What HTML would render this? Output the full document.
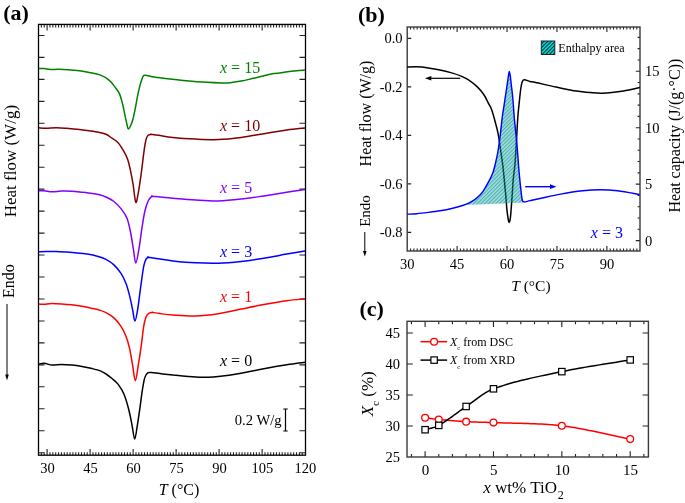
<!DOCTYPE html>
<html><head><meta charset="utf-8"><style>
html,body{margin:0;padding:0;background:#fff;}
svg{display:block;font-family:"Liberation Serif", serif;will-change:transform;}
</style></head><body>
<svg width="685" height="503" viewBox="0 0 685 503">
<rect width="685" height="503" fill="#fff"/>
<text x="3.2" y="19.8" font-size="22" text-anchor="start" fill="#000" font-weight="bold" font-style="normal" >(a)</text>
<path d="M41.37 455.2V452.2 M41.37 24.4V27.4 M44.23 455.2V452.2 M44.23 24.4V27.4 M47.1 455.2V449 M47.1 24.4V30.6 M49.97 455.2V452.2 M49.97 24.4V27.4 M52.84 455.2V452.2 M52.84 24.4V27.4 M55.7 455.2V452.2 M55.7 24.4V27.4 M58.57 455.2V452.2 M58.57 24.4V27.4 M61.44 455.2V452.2 M61.44 24.4V27.4 M64.3 455.2V452.2 M64.3 24.4V27.4 M67.17 455.2V452.2 M67.17 24.4V27.4 M70.04 455.2V452.2 M70.04 24.4V27.4 M72.9 455.2V452.2 M72.9 24.4V27.4 M75.77 455.2V452.2 M75.77 24.4V27.4 M78.64 455.2V452.2 M78.64 24.4V27.4 M81.5 455.2V452.2 M81.5 24.4V27.4 M84.37 455.2V452.2 M84.37 24.4V27.4 M87.24 455.2V452.2 M87.24 24.4V27.4 M90.11 455.2V449 M90.11 24.4V30.6 M92.97 455.2V452.2 M92.97 24.4V27.4 M95.84 455.2V452.2 M95.84 24.4V27.4 M98.71 455.2V452.2 M98.71 24.4V27.4 M101.57 455.2V452.2 M101.57 24.4V27.4 M104.44 455.2V452.2 M104.44 24.4V27.4 M107.31 455.2V452.2 M107.31 24.4V27.4 M110.17 455.2V452.2 M110.17 24.4V27.4 M113.04 455.2V452.2 M113.04 24.4V27.4 M115.91 455.2V452.2 M115.91 24.4V27.4 M118.78 455.2V452.2 M118.78 24.4V27.4 M121.64 455.2V452.2 M121.64 24.4V27.4 M124.51 455.2V452.2 M124.51 24.4V27.4 M127.38 455.2V452.2 M127.38 24.4V27.4 M130.24 455.2V452.2 M130.24 24.4V27.4 M133.11 455.2V449 M133.11 24.4V30.6 M135.98 455.2V452.2 M135.98 24.4V27.4 M138.84 455.2V452.2 M138.84 24.4V27.4 M141.71 455.2V452.2 M141.71 24.4V27.4 M144.58 455.2V452.2 M144.58 24.4V27.4 M147.45 455.2V452.2 M147.45 24.4V27.4 M150.31 455.2V452.2 M150.31 24.4V27.4 M153.18 455.2V452.2 M153.18 24.4V27.4 M156.05 455.2V452.2 M156.05 24.4V27.4 M158.91 455.2V452.2 M158.91 24.4V27.4 M161.78 455.2V452.2 M161.78 24.4V27.4 M164.65 455.2V452.2 M164.65 24.4V27.4 M167.51 455.2V452.2 M167.51 24.4V27.4 M170.38 455.2V452.2 M170.38 24.4V27.4 M173.25 455.2V452.2 M173.25 24.4V27.4 M176.12 455.2V449 M176.12 24.4V30.6 M178.98 455.2V452.2 M178.98 24.4V27.4 M181.85 455.2V452.2 M181.85 24.4V27.4 M184.72 455.2V452.2 M184.72 24.4V27.4 M187.58 455.2V452.2 M187.58 24.4V27.4 M190.45 455.2V452.2 M190.45 24.4V27.4 M193.32 455.2V452.2 M193.32 24.4V27.4 M196.19 455.2V452.2 M196.19 24.4V27.4 M199.05 455.2V452.2 M199.05 24.4V27.4 M201.92 455.2V452.2 M201.92 24.4V27.4 M204.79 455.2V452.2 M204.79 24.4V27.4 M207.65 455.2V452.2 M207.65 24.4V27.4 M210.52 455.2V452.2 M210.52 24.4V27.4 M213.39 455.2V452.2 M213.39 24.4V27.4 M216.25 455.2V452.2 M216.25 24.4V27.4 M219.12 455.2V449 M219.12 24.4V30.6 M221.99 455.2V452.2 M221.99 24.4V27.4 M224.85 455.2V452.2 M224.85 24.4V27.4 M227.72 455.2V452.2 M227.72 24.4V27.4 M230.59 455.2V452.2 M230.59 24.4V27.4 M233.46 455.2V452.2 M233.46 24.4V27.4 M236.32 455.2V452.2 M236.32 24.4V27.4 M239.19 455.2V452.2 M239.19 24.4V27.4 M242.06 455.2V452.2 M242.06 24.4V27.4 M244.92 455.2V452.2 M244.92 24.4V27.4 M247.79 455.2V452.2 M247.79 24.4V27.4 M250.66 455.2V452.2 M250.66 24.4V27.4 M253.53 455.2V452.2 M253.53 24.4V27.4 M256.39 455.2V452.2 M256.39 24.4V27.4 M259.26 455.2V452.2 M259.26 24.4V27.4 M262.13 455.2V449 M262.13 24.4V30.6 M264.99 455.2V452.2 M264.99 24.4V27.4 M267.86 455.2V452.2 M267.86 24.4V27.4 M270.73 455.2V452.2 M270.73 24.4V27.4 M273.59 455.2V452.2 M273.59 24.4V27.4 M276.46 455.2V452.2 M276.46 24.4V27.4 M279.33 455.2V452.2 M279.33 24.4V27.4 M282.19 455.2V452.2 M282.19 24.4V27.4 M285.06 455.2V452.2 M285.06 24.4V27.4 M287.93 455.2V452.2 M287.93 24.4V27.4 M290.8 455.2V452.2 M290.8 24.4V27.4 M293.66 455.2V452.2 M293.66 24.4V27.4 M296.53 455.2V452.2 M296.53 24.4V27.4 M299.4 455.2V452.2 M299.4 24.4V27.4 M302.26 455.2V452.2 M302.26 24.4V27.4 M38.5 35.45H44.5 M305.5 35.45H299.5 M38.5 57.41H44.5 M305.5 57.41H299.5 M38.5 79.37H44.5 M305.5 79.37H299.5 M38.5 101.33H44.5 M305.5 101.33H299.5 M38.5 123.29H44.5 M305.5 123.29H299.5 M38.5 145.25H44.5 M305.5 145.25H299.5 M38.5 167.21H44.5 M305.5 167.21H299.5 M38.5 189.17H44.5 M305.5 189.17H299.5 M38.5 211.13H44.5 M305.5 211.13H299.5 M38.5 233.09H44.5 M305.5 233.09H299.5 M38.5 255.05H44.5 M305.5 255.05H299.5 M38.5 277.01H44.5 M305.5 277.01H299.5 M38.5 298.97H44.5 M305.5 298.97H299.5 M38.5 320.93H44.5 M305.5 320.93H299.5 M38.5 342.89H44.5 M305.5 342.89H299.5 M38.5 364.85H44.5 M305.5 364.85H299.5 M38.5 386.81H44.5 M305.5 386.81H299.5 M38.5 408.77H44.5 M305.5 408.77H299.5 M38.5 430.73H44.5 M305.5 430.73H299.5 M38.5 452.69H44.5 M305.5 452.69H299.5" stroke="#222" stroke-width="1.1" fill="none"/>
<rect x="38.5" y="24.4" width="267" height="430.8" fill="none" stroke="#000" stroke-width="1.3"/>
<text x="47.4" y="472.8" font-size="14.5" text-anchor="middle" fill="#000" font-weight="normal" font-style="normal" >30</text>
<text x="90.41" y="472.8" font-size="14.5" text-anchor="middle" fill="#000" font-weight="normal" font-style="normal" >45</text>
<text x="133.41" y="472.8" font-size="14.5" text-anchor="middle" fill="#000" font-weight="normal" font-style="normal" >60</text>
<text x="176.42" y="472.8" font-size="14.5" text-anchor="middle" fill="#000" font-weight="normal" font-style="normal" >75</text>
<text x="219.42" y="472.8" font-size="14.5" text-anchor="middle" fill="#000" font-weight="normal" font-style="normal" >90</text>
<text x="262.43" y="472.8" font-size="14.5" text-anchor="middle" fill="#000" font-weight="normal" font-style="normal" >105</text>
<text x="305.43" y="472.8" font-size="14.5" text-anchor="middle" fill="#000" font-weight="normal" font-style="normal" >120</text>
<text x="158.7" y="494.7" font-size="16"><tspan font-style="italic">T</tspan> (°C)</text>
<text transform="translate(15.6 217.3) rotate(-90)" font-size="17">Heat flow (W/g)</text>
<text transform="translate(13.6 297.9) rotate(-90)" font-size="16">Endo</text>
<line x1="7" y1="304" x2="7" y2="376" stroke="#000" stroke-width="1"/>
<path d="M5.2 374.5 L8.8 374.5 L7 380.5 Z" fill="#000"/>
<path d="M38.9 68.4 C39.75 68.43 41.77 68.4 44 68.6 C46.23 68.8 49.88 69.5 52.3 69.6 C54.72 69.7 54.4 69.07 58.5 69.2 C62.6 69.33 71.8 69.85 76.9 70.4 C82 70.95 85.25 71.75 89.1 72.5 C92.95 73.25 96.68 73.63 100 74.9 C103.32 76.17 106.52 78.1 109 80.1 C111.48 82.1 113.17 84.65 114.9 86.9 C116.63 89.15 118.15 90.87 119.4 93.6 C120.65 96.33 121.53 99.95 122.4 103.3 C123.27 106.65 123.85 110.22 124.6 113.7 C125.35 117.18 126.27 121.63 126.9 124.2 C127.53 126.77 127.78 128.85 128.4 129.1 C129.02 129.35 129.87 127.27 130.6 125.7 C131.33 124.13 132.05 122.43 132.8 119.7 C133.55 116.97 134.35 113.03 135.1 109.3 C135.85 105.57 136.55 101.03 137.3 97.3 C138.05 93.57 138.85 89.88 139.6 86.9 C140.35 83.92 141.13 81.28 141.8 79.4 C142.47 77.52 142.98 76.3 143.6 75.6 C144.22 74.9 145.18 75.27 145.5 75.2 C145.82 75.13 144.38 74.95 145.5 75.2 C146.62 75.45 150.02 76.3 152.2 76.7 C154.38 77.1 155.63 77.22 158.6 77.6 C161.57 77.98 165.37 78.48 170 79 C174.63 79.52 180.25 80.15 186.4 80.7 C192.55 81.25 201.1 81.93 206.9 82.3 C212.7 82.67 217.35 82.82 221.2 82.9 C225.05 82.98 226.68 83.1 230 82.8 C233.32 82.5 237.4 81.8 241.1 81.1 C244.8 80.4 248.5 79.47 252.2 78.6 C255.9 77.73 259.6 76.73 263.3 75.9 C267 75.07 270.7 74.23 274.4 73.6 C278.1 72.97 281.8 72.57 285.5 72.1 C289.2 71.63 293.35 71.13 296.6 70.8 C299.85 70.47 303.6 70.22 305 70.1" stroke="#008000" stroke-width="1.5" fill="none" stroke-linejoin="round"/>
<path d="M38.9 127.8 C40.12 127.88 43.28 128.32 46.2 128.3 C49.12 128.28 53 127.7 56.4 127.7 C59.8 127.7 63.18 128.03 66.6 128.3 C70.02 128.57 73.48 128.93 76.9 129.3 C80.32 129.67 83.7 130.03 87.1 130.5 C90.5 130.97 94.15 131.47 97.3 132.1 C100.45 132.73 103.55 133.28 106 134.3 C108.45 135.32 110.02 136.85 112 138.2 C113.98 139.55 116.02 140.37 117.9 142.4 C119.78 144.43 121.67 147.57 123.3 150.4 C124.93 153.23 126.52 156.12 127.7 159.4 C128.88 162.68 129.5 165.93 130.4 170.1 C131.3 174.27 132.2 179.03 133.1 184.4 C134 189.77 134.9 201.1 135.8 202.3 C136.7 203.5 137.6 196.37 138.5 191.6 C139.4 186.83 140.3 180.27 141.2 173.7 C142.1 167.13 143.17 157.57 143.9 152.2 C144.63 146.83 145.02 144.18 145.6 141.5 C146.18 138.82 146.5 137.3 147.4 136.1 C148.3 134.9 150.4 134.6 151 134.3 C151.6 134 149.73 134.13 151 134.3 C152.27 134.47 154.97 134.77 158.6 135.3 C162.23 135.83 166.63 136.87 172.8 137.5 C178.97 138.13 188.02 138.75 195.6 139.1 C203.18 139.45 210.72 139.87 218.3 139.6 C225.88 139.33 233.5 138.48 241.1 137.5 C248.7 136.52 256.3 134.95 263.9 133.7 C271.5 132.45 279.85 130.95 286.7 130 C293.55 129.05 301.95 128.33 305 128" stroke="#800000" stroke-width="1.5" fill="none" stroke-linejoin="round"/>
<path d="M38.9 190.8 C39.78 190.8 41.97 190.63 44.2 190.8 C46.43 190.97 49.42 191.75 52.3 191.8 C55.18 191.85 58.25 191.18 61.5 191.1 C64.75 191.02 68.38 191.1 71.8 191.3 C75.22 191.5 78.6 191.93 82 192.3 C85.4 192.67 89.13 193.07 92.2 193.5 C95.27 193.93 98.1 194.32 100.4 194.9 C102.7 195.48 103.75 195.9 106 197 C108.25 198.1 111.4 199.57 113.9 201.5 C116.4 203.43 118.82 205.82 121 208.6 C123.18 211.38 125.4 214.22 127 218.2 C128.6 222.18 129.53 227.33 130.6 232.5 C131.67 237.67 132.53 244.12 133.4 249.2 C134.27 254.28 134.88 263 135.8 263 C136.72 263 137.87 255.08 138.9 249.2 C139.93 243.32 141 234.07 142 227.7 C143 221.33 143.82 215.57 144.9 211 C145.98 206.43 147.32 202.77 148.5 200.3 C149.68 197.83 151.42 196.88 152 196.2 C152.58 195.52 150.9 196.1 152 196.2 C153.1 196.3 155.13 196.47 158.6 196.8 C162.07 197.13 166.63 197.67 172.8 198.2 C178.97 198.73 188.02 199.55 195.6 200 C203.18 200.45 210.72 201.05 218.3 200.9 C225.88 200.75 233.5 199.93 241.1 199.1 C248.7 198.27 256.3 197.03 263.9 195.9 C271.5 194.77 279.85 193.37 286.7 192.3 C293.55 191.23 301.95 189.97 305 189.5" stroke="#8000ff" stroke-width="1.5" fill="none" stroke-linejoin="round"/>
<path d="M38.9 251.8 C40.12 251.75 43.28 251.55 46.2 251.5 C49.12 251.45 53 251.4 56.4 251.5 C59.8 251.6 63.18 251.87 66.6 252.1 C70.02 252.33 73.48 252.57 76.9 252.9 C80.32 253.23 83.7 253.55 87.1 254.1 C90.5 254.65 94.15 255.32 97.3 256.2 C100.45 257.08 103.23 257.95 106 259.4 C108.77 260.85 111.4 262.57 113.9 264.9 C116.4 267.23 119.02 270.38 121 273.4 C122.98 276.42 124.4 279.42 125.8 283 C127.2 286.58 128.28 290.53 129.4 294.9 C130.52 299.27 131.58 304.83 132.5 309.2 C133.42 313.57 134.03 321.1 134.9 321.1 C135.77 321.1 136.75 314.77 137.7 309.2 C138.65 303.63 139.6 294.85 140.6 287.7 C141.6 280.55 142.78 271.07 143.7 266.3 C144.62 261.53 145.3 260.62 146.1 259.1 C146.9 257.58 148.1 257.52 148.5 257.2 C148.9 256.88 146.58 256.9 148.5 257.2 C150.42 257.5 155.95 258.38 160 259 C164.05 259.62 166.87 260.27 172.8 260.9 C178.73 261.53 188.02 262.42 195.6 262.8 C203.18 263.18 210.72 263.43 218.3 263.2 C225.88 262.97 233.5 262.23 241.1 261.4 C248.7 260.57 256.3 259.42 263.9 258.2 C271.5 256.98 279.85 255.3 286.7 254.1 C293.55 252.9 301.95 251.52 305 251" stroke="#0000ff" stroke-width="1.5" fill="none" stroke-linejoin="round"/>
<path d="M38.9 304.1 C39.78 304.13 42.13 304.4 44.2 304.3 C46.27 304.2 48.42 303.57 51.3 303.5 C54.18 303.43 58.08 303.68 61.5 303.9 C64.92 304.12 68.38 304.4 71.8 304.8 C75.22 305.2 78.6 305.7 82 306.3 C85.4 306.9 89.13 307.72 92.2 308.4 C95.27 309.08 98.1 309.68 100.4 310.4 C102.7 311.12 103.75 311.45 106 312.7 C108.25 313.95 111.4 315.63 113.9 317.9 C116.4 320.17 119.02 323.32 121 326.3 C122.98 329.28 124.4 332.23 125.8 335.8 C127.2 339.37 128.28 342.93 129.4 347.7 C130.52 352.47 131.52 358.9 132.5 364.4 C133.48 369.9 134.32 380.7 135.3 380.7 C136.28 380.7 137.4 370.3 138.4 364.4 C139.4 358.5 140.42 351.65 141.3 345.3 C142.18 338.95 142.9 331.07 143.7 326.3 C144.5 321.53 145.18 318.9 146.1 316.7 C147.02 314.5 148.13 313.82 149.2 313.1 C150.27 312.38 151.95 312.52 152.5 312.4 C153.05 312.28 151.25 312.2 152.5 312.4 C153.75 312.6 156.62 313.17 160 313.6 C163.38 314.03 166.87 314.6 172.8 315 C178.73 315.4 188.02 316.22 195.6 316 C203.18 315.78 210.72 314.85 218.3 313.7 C225.88 312.55 233.5 310.62 241.1 309.1 C248.7 307.58 256.3 306 263.9 304.6 C271.5 303.2 279.85 301.67 286.7 300.7 C293.55 299.73 301.95 299.12 305 298.8" stroke="#ff0000" stroke-width="1.5" fill="none" stroke-linejoin="round"/>
<path d="M38.9 364.1 C39.78 363.97 41.97 363.13 44.2 363.3 C46.43 363.47 49.42 364.9 52.3 365.1 C55.18 365.3 58.25 364.5 61.5 364.5 C64.75 364.5 68.38 364.77 71.8 365.1 C75.22 365.43 78.6 365.92 82 366.5 C85.4 367.08 89.13 367.87 92.2 368.6 C95.27 369.33 98.1 370 100.4 370.9 C102.7 371.8 104.07 372.73 106 374 C107.93 375.27 110.03 376.85 112 378.5 C113.97 380.15 115.83 381.35 117.8 383.9 C119.77 386.45 121.97 389.5 123.8 393.8 C125.63 398.1 127.42 404.4 128.8 409.7 C130.18 415 131.12 420.7 132.1 425.6 C133.08 430.5 133.83 439.1 134.7 439.1 C135.57 439.1 136.47 430.5 137.3 425.6 C138.13 420.7 138.9 415.33 139.7 409.7 C140.5 404.07 141.27 397.1 142.1 391.8 C142.93 386.5 143.77 381.05 144.7 377.9 C145.63 374.75 146.55 373.78 147.7 372.9 C148.85 372.02 149.55 372.48 151.6 372.6 C153.65 372.72 156.47 373.2 160 373.6 C163.53 374 166.87 374.42 172.8 375 C178.73 375.58 189.92 376.72 195.6 377.1 C201.28 377.48 203.12 377.38 206.9 377.3 C210.68 377.22 212.6 377.28 218.3 376.6 C224 375.92 233.5 374.52 241.1 373.2 C248.7 371.88 256.3 370.1 263.9 368.7 C271.5 367.3 279.85 365.87 286.7 364.8 C293.55 363.73 301.95 362.72 305 362.3" stroke="#000" stroke-width="1.5" fill="none" stroke-linejoin="round"/>
<text x="220" y="73.1" font-size="16" fill="#008000"><tspan font-style="italic">x</tspan> = 15</text>
<text x="220" y="131" font-size="16" fill="#800000"><tspan font-style="italic">x</tspan> = 10</text>
<text x="220" y="192.9" font-size="16" fill="#8000ff"><tspan font-style="italic">x</tspan> = 5</text>
<text x="220" y="256.6" font-size="16" fill="#0000ff"><tspan font-style="italic">x</tspan> = 3</text>
<text x="220" y="301.5" font-size="16" fill="#ff0000"><tspan font-style="italic">x</tspan> = 1</text>
<text x="220" y="366.4" font-size="16" fill="#000"><tspan font-style="italic">x</tspan> = 0</text>
<text x="234.8" y="424.8" font-size="14.6" text-anchor="start" fill="#000" font-weight="normal" font-style="normal" >0.2 W/g</text>
<path d="M285.5 409V431M283.3 409H287.7M283.3 431H287.7" stroke="#000" stroke-width="1.2" fill="none"/>
<text x="358" y="22.3" font-size="22" text-anchor="start" fill="#000" font-weight="bold" font-style="normal" >(b)</text>
<defs><pattern id="hat" patternUnits="userSpaceOnUse" width="2.6" height="2.6" patternTransform="rotate(45)"><rect width="2.6" height="2.6" fill="#00e0e0"/><rect width="1.1" height="2.6" fill="#003333"/></pattern></defs>
<path d="M410.53 251V248.4 M410.53 27V29.6 M413.86 251V248.4 M413.86 27V29.6 M417.18 251V248.4 M417.18 27V29.6 M420.51 251V248.4 M420.51 27V29.6 M423.84 251V248.4 M423.84 27V29.6 M427.17 251V248.4 M427.17 27V29.6 M430.5 251V248.4 M430.5 27V29.6 M433.82 251V248.4 M433.82 27V29.6 M437.15 251V248.4 M437.15 27V29.6 M440.48 251V248.4 M440.48 27V29.6 M443.81 251V248.4 M443.81 27V29.6 M447.14 251V248.4 M447.14 27V29.6 M450.46 251V248.4 M450.46 27V29.6 M453.79 251V248.4 M453.79 27V29.6 M457.12 251V246 M457.12 27V32 M460.45 251V248.4 M460.45 27V29.6 M463.78 251V248.4 M463.78 27V29.6 M467.1 251V248.4 M467.1 27V29.6 M470.43 251V248.4 M470.43 27V29.6 M473.76 251V248.4 M473.76 27V29.6 M477.09 251V248.4 M477.09 27V29.6 M480.42 251V248.4 M480.42 27V29.6 M483.74 251V248.4 M483.74 27V29.6 M487.07 251V248.4 M487.07 27V29.6 M490.4 251V248.4 M490.4 27V29.6 M493.73 251V248.4 M493.73 27V29.6 M497.06 251V248.4 M497.06 27V29.6 M500.38 251V248.4 M500.38 27V29.6 M503.71 251V248.4 M503.71 27V29.6 M507.04 251V246 M507.04 27V32 M510.37 251V248.4 M510.37 27V29.6 M513.7 251V248.4 M513.7 27V29.6 M517.02 251V248.4 M517.02 27V29.6 M520.35 251V248.4 M520.35 27V29.6 M523.68 251V248.4 M523.68 27V29.6 M527.01 251V248.4 M527.01 27V29.6 M530.34 251V248.4 M530.34 27V29.6 M533.66 251V248.4 M533.66 27V29.6 M536.99 251V248.4 M536.99 27V29.6 M540.32 251V248.4 M540.32 27V29.6 M543.65 251V248.4 M543.65 27V29.6 M546.98 251V248.4 M546.98 27V29.6 M550.3 251V248.4 M550.3 27V29.6 M553.63 251V248.4 M553.63 27V29.6 M556.96 251V246 M556.96 27V32 M560.29 251V248.4 M560.29 27V29.6 M563.62 251V248.4 M563.62 27V29.6 M566.94 251V248.4 M566.94 27V29.6 M570.27 251V248.4 M570.27 27V29.6 M573.6 251V248.4 M573.6 27V29.6 M576.93 251V248.4 M576.93 27V29.6 M580.26 251V248.4 M580.26 27V29.6 M583.58 251V248.4 M583.58 27V29.6 M586.91 251V248.4 M586.91 27V29.6 M590.24 251V248.4 M590.24 27V29.6 M593.57 251V248.4 M593.57 27V29.6 M596.9 251V248.4 M596.9 27V29.6 M600.22 251V248.4 M600.22 27V29.6 M603.55 251V248.4 M603.55 27V29.6 M606.88 251V246 M606.88 27V32 M610.21 251V248.4 M610.21 27V29.6 M613.54 251V248.4 M613.54 27V29.6 M616.86 251V248.4 M616.86 27V29.6 M620.19 251V248.4 M620.19 27V29.6 M623.52 251V248.4 M623.52 27V29.6 M626.85 251V248.4 M626.85 27V29.6 M630.18 251V248.4 M630.18 27V29.6 M633.5 251V248.4 M633.5 27V29.6 M636.83 251V248.4 M636.83 27V29.6 M407.2 38.4H411.2 M407.2 86.9H411.2 M407.2 135.4H411.2 M407.2 183.9H411.2 M407.2 232.4H411.2 M640 240.6H635.8 M640 229.31H637.6 M640 218.02H637.6 M640 206.73H637.6 M640 195.44H637.6 M640 184.15H635.8 M640 172.86H637.6 M640 161.57H637.6 M640 150.28H637.6 M640 138.99H637.6 M640 127.7H635.8 M640 116.41H637.6 M640 105.12H637.6 M640 93.83H637.6 M640 82.54H637.6 M640 71.25H635.8 M640 59.96H637.6 M640 48.67H637.6 M640 37.38H637.6" stroke="#222" stroke-width="1.1" fill="none"/>
<rect x="407.2" y="27" width="232.8" height="224" fill="none" stroke="#3a3a3a" stroke-width="1.4"/>
<text x="407.2" y="269.3" font-size="14.5" text-anchor="middle" fill="#000" font-weight="normal" font-style="normal" >30</text>
<text x="457.12" y="269.3" font-size="14.5" text-anchor="middle" fill="#000" font-weight="normal" font-style="normal" >45</text>
<text x="507.04" y="269.3" font-size="14.5" text-anchor="middle" fill="#000" font-weight="normal" font-style="normal" >60</text>
<text x="556.96" y="269.3" font-size="14.5" text-anchor="middle" fill="#000" font-weight="normal" font-style="normal" >75</text>
<text x="606.88" y="269.3" font-size="14.5" text-anchor="middle" fill="#000" font-weight="normal" font-style="normal" >90</text>
<text x="402.6" y="43.2" font-size="14.5" text-anchor="end" fill="#000" font-weight="normal" font-style="normal" >0.0</text>
<text x="402.6" y="91.7" font-size="14.5" text-anchor="end" fill="#000" font-weight="normal" font-style="normal" >-0.2</text>
<text x="402.6" y="140.2" font-size="14.5" text-anchor="end" fill="#000" font-weight="normal" font-style="normal" >-0.4</text>
<text x="402.6" y="188.7" font-size="14.5" text-anchor="end" fill="#000" font-weight="normal" font-style="normal" >-0.6</text>
<text x="402.6" y="237.2" font-size="14.5" text-anchor="end" fill="#000" font-weight="normal" font-style="normal" >-0.8</text>
<text x="645" y="245.6" font-size="14.5" text-anchor="start" fill="#000" font-weight="normal" font-style="normal" >0</text>
<text x="645" y="189.15" font-size="14.5" text-anchor="start" fill="#000" font-weight="normal" font-style="normal" >5</text>
<text x="645" y="132.7" font-size="14.5" text-anchor="start" fill="#000" font-weight="normal" font-style="normal" >10</text>
<text x="645" y="76.25" font-size="14.5" text-anchor="start" fill="#000" font-weight="normal" font-style="normal" >15</text>
<text x="511.2" y="290.8" font-size="15.5"><tspan font-style="italic">T</tspan> (°C)</text>
<text transform="translate(371 166.4) rotate(-90)" font-size="16">Heat flow (W/g)</text>
<text transform="translate(370 226.8) rotate(-90)" font-size="15">Endo</text>
<line x1="364.8" y1="232" x2="364.8" y2="252" stroke="#000" stroke-width="1"/>
<path d="M363 251 L366.6 251 L364.8 256.5 Z" fill="#000"/>
<text transform="translate(680 212.6) rotate(-90)" font-size="16">Heat capacity (J/(g·°C))</text>
<rect x="541.3" y="41" width="13.5" height="13.5" fill="#fff" stroke="none"/>
<rect x="541.3" y="41" width="13.5" height="13.5" fill="url(#hat)" stroke="none"/>
<rect x="541.3" y="41" width="13.5" height="13.5" fill="none" stroke="#222" stroke-width="1"/>
<text x="558.3" y="51.9" font-size="12" text-anchor="start" fill="#000" font-weight="normal" font-style="normal" >Enthalpy area</text>
<path d="M407.1 67.1 C408.7 67.05 413.15 66.67 416.7 66.8 C420.25 66.93 424.52 67.38 428.4 67.9 C432.28 68.42 436.12 69.07 440 69.9 C443.88 70.73 448.18 71.87 451.7 72.9 C455.22 73.93 458.37 74.98 461.1 76.1 C463.83 77.22 465.77 78.13 468.1 79.6 C470.43 81.07 472.97 83.05 475.1 84.9 C477.23 86.75 479.25 88.77 480.9 90.7 C482.55 92.63 483.78 94.48 485 96.5 C486.22 98.52 487.1 100.65 488.2 102.8 C489.3 104.95 490.5 106.45 491.6 109.4 C492.7 112.35 493.73 116.53 494.8 120.5 C495.87 124.47 497.03 128.28 498 133.2 C498.97 138.12 499.82 144.72 500.6 150 C501.38 155.28 502.08 159.92 502.7 164.9 C503.32 169.88 503.8 174.92 504.3 179.9 C504.8 184.88 505.27 189.83 505.7 194.8 C506.13 199.77 506.5 205.75 506.9 209.7 C507.3 213.65 507.72 216.38 508.1 218.5 C508.48 220.62 508.83 222.4 509.2 222.4 C509.57 222.4 509.98 220.62 510.3 218.5 C510.62 216.38 510.78 213.65 511.1 209.7 C511.42 205.75 511.85 199.77 512.2 194.8 C512.55 189.83 512.75 184.88 513.2 179.9 C513.65 174.92 514.45 169.88 514.9 164.9 C515.35 159.92 515.57 155.32 515.9 150 C516.23 144.68 516.57 138.65 516.9 133 C517.23 127.35 517.48 121.45 517.9 116.1 C518.32 110.75 518.92 105.5 519.4 100.9 C519.88 96.3 520.32 91.73 520.8 88.5 C521.28 85.27 521.7 82.95 522.3 81.5 C522.9 80.05 523.12 79.82 524.4 79.8 C525.68 79.78 528.12 80.95 530 81.4 C531.88 81.85 531.35 81.57 535.7 82.5 C540.05 83.43 549.3 85.57 556.1 87 C562.9 88.43 569.68 90.08 576.5 91.1 C583.32 92.12 591.88 92.8 597 93.1 C602.12 93.4 602.78 93.23 607.2 92.9 C611.62 92.57 618.05 91.98 623.5 91.1 C628.95 90.22 637.17 88.18 639.9 87.6" stroke="#000" stroke-width="1.5" fill="none"/>
<path d="M464.6 205.1 C465.37 204.72 467.45 203.77 469.2 202.8 C470.95 201.83 473.35 200.55 475.1 199.3 C476.85 198.05 478.35 196.65 479.7 195.3 C481.05 193.95 481.87 193.18 483.2 191.2 C484.53 189.22 486.15 186.3 487.7 183.4 C489.25 180.5 491.18 177.25 492.5 173.8 C493.82 170.35 494.65 166.67 495.6 162.7 C496.55 158.73 497.38 154.95 498.2 150 C499.02 145.05 499.8 138.67 500.5 133 C501.2 127.33 501.82 120.53 502.4 116 C502.98 111.47 503.47 109.3 504 105.8 C504.53 102.3 505.1 98.32 505.6 95 C506.1 91.68 506.53 89.07 507 85.9 C507.47 82.73 508.02 78.4 508.4 76 C508.78 73.6 508.98 71.5 509.3 71.5 C509.62 71.5 509.95 73.6 510.3 76 C510.65 78.4 511.03 82.73 511.4 85.9 C511.77 89.07 512.17 91.68 512.5 95 C512.83 98.32 513.1 101.97 513.4 105.8 C513.7 109.63 513.93 113.8 514.3 118 C514.67 122.2 515.17 126.7 515.6 131 C516.03 135.3 516.32 136.93 516.9 143.8 C517.48 150.67 518.38 164.08 519.1 172.2 C519.82 180.32 520.65 187.8 521.2 192.5 C521.75 197.2 522.02 198.72 522.4 200.4 C522.78 202.08 523.32 202.23 523.5 202.6 L464.6 205.1 Z" fill="url(#hat)" opacity="0.5" stroke="none"/>
<path d="M407.3 214.2 C408.87 214.12 413.18 214 416.7 213.7 C420.22 213.4 424.52 212.88 428.4 212.4 C432.28 211.92 436.12 211.45 440 210.8 C443.88 210.15 447.8 209.43 451.7 208.5 C455.6 207.57 460.48 206.15 463.4 205.2 C466.32 204.25 467.25 203.78 469.2 202.8 C471.15 201.82 473.35 200.55 475.1 199.3 C476.85 198.05 478.35 196.65 479.7 195.3 C481.05 193.95 481.87 193.18 483.2 191.2 C484.53 189.22 486.15 186.3 487.7 183.4 C489.25 180.5 491.18 177.25 492.5 173.8 C493.82 170.35 494.65 166.67 495.6 162.7 C496.55 158.73 497.38 154.95 498.2 150 C499.02 145.05 499.8 138.67 500.5 133 C501.2 127.33 501.82 120.53 502.4 116 C502.98 111.47 503.47 109.3 504 105.8 C504.53 102.3 505.1 98.32 505.6 95 C506.1 91.68 506.53 89.07 507 85.9 C507.47 82.73 508.02 78.4 508.4 76 C508.78 73.6 508.98 71.5 509.3 71.5 C509.62 71.5 509.95 73.6 510.3 76 C510.65 78.4 511.03 82.73 511.4 85.9 C511.77 89.07 512.17 91.68 512.5 95 C512.83 98.32 513.1 101.97 513.4 105.8 C513.7 109.63 513.93 113.8 514.3 118 C514.67 122.2 515.17 126.7 515.6 131 C516.03 135.3 516.32 136.93 516.9 143.8 C517.48 150.67 518.38 164.08 519.1 172.2 C519.82 180.32 520.65 187.8 521.2 192.5 C521.75 197.2 521.85 198.83 522.4 200.4 C522.95 201.97 523.23 201.87 524.5 201.9 C525.77 201.93 527.42 201.17 530 200.6 C532.58 200.03 534.88 199.58 540 198.5 C545.12 197.42 553.6 195.38 560.7 194.1 C567.8 192.82 576.03 191.53 582.6 190.8 C589.17 190.07 594.27 189.7 600.1 189.7 C605.93 189.7 611.03 190 617.6 190.8 C624.17 191.6 635.85 193.88 639.5 194.5" stroke="#0000ff" stroke-width="1.45" fill="none"/>
<line x1="430.5" y1="78.3" x2="460.2" y2="78.3" stroke="#000" stroke-width="1.2"/>
<path d="M424.9 78.3 L431.3 76 L431.3 80.6 Z" fill="#000"/>
<line x1="525.2" y1="186.7" x2="550.5" y2="186.7" stroke="#0000ff" stroke-width="1.4"/>
<path d="M556.5 186.7 L550 184.3 L550 189.1 Z" fill="#0000ff"/>
<text x="590.8" y="237.8" font-size="16" fill="#0000ff"><tspan font-style="italic">x</tspan> = 3</text>
<text x="359.5" y="316.3" font-size="22" text-anchor="start" fill="#000" font-weight="bold" font-style="normal" >(c)</text>
<path d="M411.43 457V454 M411.43 321.3V324.3 M425.1 457V451.2 M425.1 321.3V327.1 M438.77 457V454 M438.77 321.3V324.3 M452.45 457V454 M452.45 321.3V324.3 M466.12 457V454 M466.12 321.3V324.3 M479.79 457V454 M479.79 321.3V324.3 M493.47 457V451.2 M493.47 321.3V327.1 M507.14 457V454 M507.14 321.3V324.3 M520.81 457V454 M520.81 321.3V324.3 M534.48 457V454 M534.48 321.3V324.3 M548.16 457V454 M548.16 321.3V324.3 M561.83 457V451.2 M561.83 321.3V327.1 M575.5 457V454 M575.5 321.3V324.3 M589.18 457V454 M589.18 321.3V324.3 M602.85 457V454 M602.85 321.3V324.3 M616.52 457V454 M616.52 321.3V324.3 M630.2 457V451.2 M630.2 321.3V327.1 M643.87 457V454 M643.87 321.3V324.3 M407 426H412.8 M648.4 426H642.6 M407 395H412.8 M648.4 395H642.6 M407 364H412.8 M648.4 364H642.6 M407 333H412.8 M648.4 333H642.6" stroke="#222" stroke-width="1.1" fill="none"/>
<rect x="407" y="321.3" width="241.4" height="135.7" fill="none" stroke="#3a3a3a" stroke-width="1.4"/>
<text x="400" y="462" font-size="14.5" text-anchor="end" fill="#000" font-weight="normal" font-style="normal" >25</text>
<text x="400" y="431" font-size="14.5" text-anchor="end" fill="#000" font-weight="normal" font-style="normal" >30</text>
<text x="400" y="400" font-size="14.5" text-anchor="end" fill="#000" font-weight="normal" font-style="normal" >35</text>
<text x="400" y="369" font-size="14.5" text-anchor="end" fill="#000" font-weight="normal" font-style="normal" >40</text>
<text x="400" y="338" font-size="14.5" text-anchor="end" fill="#000" font-weight="normal" font-style="normal" >45</text>
<text x="425.4" y="474.5" font-size="15" text-anchor="middle" fill="#000" font-weight="normal" font-style="normal" >0</text>
<text x="493.77" y="474.5" font-size="15" text-anchor="middle" fill="#000" font-weight="normal" font-style="normal" >5</text>
<text x="562.13" y="474.5" font-size="15" text-anchor="middle" fill="#000" font-weight="normal" font-style="normal" >10</text>
<text x="630.5" y="474.5" font-size="15" text-anchor="middle" fill="#000" font-weight="normal" font-style="normal" >15</text>
<text x="483.3" y="492.8" font-size="17"><tspan font-style="italic">x</tspan> wt% TiO<tspan font-size="12" dx="0.8" dy="6.5">2</tspan></text>
<text transform="translate(373 416.3) rotate(-90)" font-size="17"><tspan font-style="italic">X</tspan><tspan font-size="11" dy="5.5">c</tspan><tspan dy="-5.5"> (%)</tspan></text>
<path d="M425.1 417.82 L425.78 417.9 L426.47 417.99 L427.15 418.07 L427.83 418.16 L428.52 418.25 L429.2 418.34 L429.89 418.43 L430.57 418.52 L431.25 418.61 L431.94 418.7 L432.62 418.79 L433.3 418.88 L433.99 418.96 L434.67 419.05 L435.35 419.13 L436.04 419.21 L436.72 419.28 L437.41 419.35 L438.09 419.42 L438.77 419.49 L440.14 419.62 L441.51 419.74 L442.87 419.87 L444.24 419.99 L445.61 420.12 L446.98 420.24 L448.34 420.36 L449.71 420.47 L451.08 420.59 L452.45 420.7 L453.81 420.81 L455.18 420.92 L456.55 421.02 L457.92 421.12 L459.28 421.22 L460.65 421.32 L462.02 421.41 L463.38 421.5 L464.75 421.58 L466.12 421.66 L467.49 421.73 L468.85 421.8 L470.22 421.86 L471.59 421.92 L472.96 421.97 L474.32 422.01 L475.69 422.06 L477.06 422.1 L478.42 422.13 L479.79 422.17 L481.16 422.21 L482.53 422.24 L483.89 422.28 L485.26 422.31 L486.63 422.35 L488 422.39 L489.36 422.43 L490.73 422.48 L492.1 422.53 L493.47 422.59 L496.88 422.73 L500.3 422.85 L503.72 422.95 L507.14 423.04 L510.56 423.12 L513.97 423.2 L517.39 423.28 L520.81 423.36 L524.23 423.45 L527.65 423.54 L531.07 423.65 L534.48 423.78 L537.9 423.92 L541.32 424.09 L544.74 424.29 L548.16 424.52 L551.58 424.78 L554.99 425.08 L558.41 425.43 L561.83 425.81 L565.25 426.25 L568.67 426.73 L572.08 427.26 L575.5 427.82 L578.92 428.42 L582.34 429.06 L585.76 429.72 L589.18 430.4 L592.59 431.1 L596.01 431.82 L599.43 432.55 L602.85 433.29 L606.27 434.04 L609.69 434.79 L613.1 435.53 L616.52 436.27 L619.94 437 L623.36 437.71 L626.78 438.41 L630.2 439.08" stroke="#ff0000" stroke-width="1.5" fill="none"/>
<path d="M425.1 429.72 L425.78 429.51 L426.47 429.32 L427.15 429.13 L427.83 428.96 L428.52 428.79 L429.2 428.63 L429.89 428.47 L430.57 428.31 L431.25 428.15 L431.94 427.98 L432.62 427.8 L433.3 427.61 L433.99 427.4 L434.67 427.18 L435.35 426.94 L436.04 426.68 L436.72 426.4 L437.41 426.09 L438.09 425.75 L438.77 425.38 L440.14 424.59 L441.51 423.76 L442.87 422.9 L444.24 422.01 L445.61 421.1 L446.98 420.17 L448.34 419.22 L449.71 418.25 L451.08 417.27 L452.45 416.27 L453.81 415.27 L455.18 414.27 L456.55 413.27 L457.92 412.27 L459.28 411.27 L460.65 410.28 L462.02 409.3 L463.38 408.34 L464.75 407.4 L466.12 406.47 L467.49 405.54 L468.85 404.58 L470.22 403.6 L471.59 402.61 L472.96 401.6 L474.32 400.59 L475.69 399.58 L477.06 398.57 L478.42 397.57 L479.79 396.59 L481.16 395.63 L482.53 394.7 L483.89 393.79 L485.26 392.93 L486.63 392.1 L488 391.33 L489.36 390.6 L490.73 389.94 L492.1 389.33 L493.47 388.8 L496.88 387.59 L500.3 386.43 L503.72 385.34 L507.14 384.29 L510.56 383.29 L513.97 382.34 L517.39 381.43 L520.81 380.56 L524.23 379.72 L527.65 378.91 L531.07 378.12 L534.48 377.36 L537.9 376.62 L541.32 375.89 L544.74 375.17 L548.16 374.46 L551.58 373.76 L554.99 373.05 L558.41 372.34 L561.83 371.63 L565.25 370.92 L568.67 370.23 L572.08 369.57 L575.5 368.93 L578.92 368.31 L582.34 367.71 L585.76 367.12 L589.18 366.55 L592.59 365.98 L596.01 365.43 L599.43 364.88 L602.85 364.33 L606.27 363.79 L609.69 363.25 L613.1 362.71 L616.52 362.16 L619.94 361.61 L623.36 361.06 L626.78 360.49 L630.2 359.91" stroke="#000" stroke-width="1.5" fill="none"/>
<circle cx="425.1" cy="417.82" r="3.4" fill="#fff" stroke="#ff0000" stroke-width="1.3"/>
<circle cx="438.77" cy="419.49" r="3.4" fill="#fff" stroke="#ff0000" stroke-width="1.3"/>
<circle cx="466.12" cy="421.66" r="3.4" fill="#fff" stroke="#ff0000" stroke-width="1.3"/>
<circle cx="493.47" cy="422.59" r="3.4" fill="#fff" stroke="#ff0000" stroke-width="1.3"/>
<circle cx="561.83" cy="425.81" r="3.4" fill="#fff" stroke="#ff0000" stroke-width="1.3"/>
<circle cx="630.2" cy="439.08" r="3.4" fill="#fff" stroke="#ff0000" stroke-width="1.3"/>
<rect x="421.9" y="426.52" width="6.4" height="6.4" fill="#fff" stroke="#000" stroke-width="1.2"/>
<rect x="435.57" y="422.18" width="6.4" height="6.4" fill="#fff" stroke="#000" stroke-width="1.2"/>
<rect x="462.92" y="403.27" width="6.4" height="6.4" fill="#fff" stroke="#000" stroke-width="1.2"/>
<rect x="490.27" y="385.6" width="6.4" height="6.4" fill="#fff" stroke="#000" stroke-width="1.2"/>
<rect x="558.63" y="368.43" width="6.4" height="6.4" fill="#fff" stroke="#000" stroke-width="1.2"/>
<rect x="627" y="356.71" width="6.4" height="6.4" fill="#fff" stroke="#000" stroke-width="1.2"/>
<line x1="420.5" y1="341.7" x2="447.1" y2="341.7" stroke="#ff0000" stroke-width="1.5"/>
<circle cx="434.1" cy="341.7" r="3.4" fill="#fff" stroke="#ff0000" stroke-width="1.3"/>
<line x1="420.5" y1="360.1" x2="447.1" y2="360.1" stroke="#000" stroke-width="1.5"/>
<rect x="430.9" y="356.9" width="6.4" height="6.4" fill="#fff" stroke="#000" stroke-width="1.2"/>
<text x="450" y="345.6" font-size="12"><tspan font-style="italic">X</tspan><tspan font-size="6.5" dy="4.5">c</tspan><tspan dy="-4.5"> from DSC</tspan></text>
<text x="450" y="364.2" font-size="12"><tspan font-style="italic">X</tspan><tspan font-size="6.5" dy="4.5">c</tspan><tspan dy="-4.5"> from XRD</tspan></text>
</svg>
</body></html>
